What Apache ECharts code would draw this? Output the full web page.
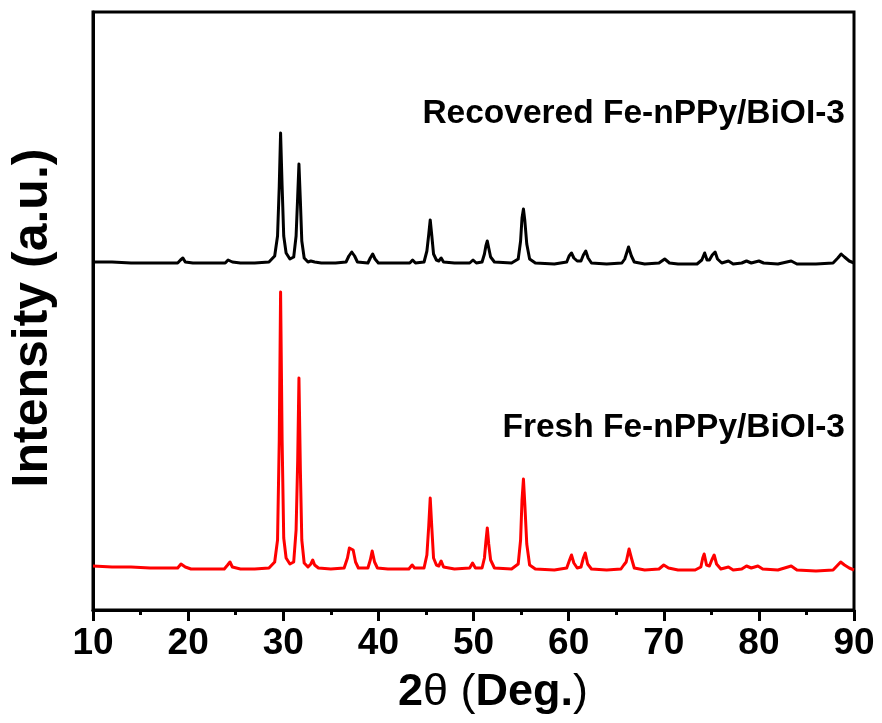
<!DOCTYPE html>
<html>
<head>
<meta charset="utf-8">
<script src="https://cdn.jsdelivr.net/npm/echarts@6/dist/echarts.min.js"></script>
<style>
  html, body { margin: 0; padding: 0; background: #fff; }
  #chart { width: 882px; height: 723px; }
</style>
</head>
<body>
<div id="chart"></div>
<script>
// XRD patterns of Fe-nPPy/BiOI-3 before and after use: [2θ (deg), intensity (a.u.)]
const freshPattern = [
  [10.0, 44], [12, 43], [14, 43], [16, 42], [18, 42], [18.9, 42], [19.25, 46], [19.45, 48], [19.7, 43],
  [20.3, 41], [22, 41], [23.8, 41], [24.15, 45], [24.4, 48], [24.65, 43], [25.5, 41], [27, 41], [28.5, 42],
  [29.1, 48], [29.4, 70], [29.58, 170], [29.72, 318], [29.88, 170], [30.05, 72], [30.3, 52], [30.7, 46],
  [31.1, 48], [31.35, 80], [31.52, 150], [31.65, 232], [31.8, 140], [31.95, 70], [32.2, 47], [32.6, 43],
  [32.9, 46], [33.1, 50], [33.3, 45], [33.7, 42], [35, 41], [36.4, 42], [36.75, 52], [36.95, 62],
  [37.15, 61], [37.35, 60], [37.6, 48], [37.9, 42], [38.9, 42], [39.15, 50], [39.35, 59], [39.6, 48],
  [39.9, 42], [41, 41], [43.2, 41], [43.55, 45], [43.8, 42], [44.8, 42], [45.1, 55], [45.3, 85],
  [45.45, 112], [45.62, 82], [45.8, 52], [46.1, 45], [46.35, 44], [46.6, 49], [46.85, 43], [48, 41],
  [49.6, 42], [49.9, 47], [50.2, 42], [50.9, 42], [51.15, 52], [51.3, 68], [51.45, 82], [51.6, 66],
  [51.8, 50], [52.2, 42], [54, 41], [54.7, 46], [54.95, 70], [55.1, 110], [55.25, 131], [55.4, 105],
  [55.6, 66], [55.9, 45], [56.5, 41], [58.5, 40], [59.8, 42], [60.1, 50], [60.3, 55], [60.55, 47],
  [60.9, 42], [61.3, 43], [61.55, 52], [61.75, 57], [62.0, 46], [62.4, 41], [64, 40], [65.5, 41],
  [65.8, 45], [66.05, 48], [66.35, 61], [66.6, 52], [66.9, 42], [68, 40], [69.5, 41], [70.0, 45],
  [70.5, 42], [71.5, 40], [73.3, 40], [73.9, 43], [74.1, 52], [74.25, 56], [74.5, 45], [74.8, 44],
  [75.05, 50], [75.3, 55], [75.55, 46], [76.0, 41], [76.8, 43], [77.3, 40], [78.2, 41], [78.7, 44],
  [79.2, 42], [79.9, 44], [80.4, 41], [82, 40], [83.4, 44], [84, 40], [86, 39], [87.8, 40], [88.3, 45],
  [88.6, 48], [89.0, 45], [89.5, 42], [90, 40]
];

const recoveredPattern = [
  [10, 44], [12, 44], [14, 43], [16, 43], [18, 43], [18.9, 43], [19.2, 46], [19.45, 48], [19.7, 44],
  [20.5, 43], [22, 43], [23.9, 43], [24.2, 46], [24.4, 48], [24.65, 44], [25.5, 43], [27, 43], [28.5, 44],
  [29.1, 50], [29.4, 70], [29.58, 120], [29.72, 173], [29.88, 120], [30.05, 70], [30.3, 53], [30.7, 47],
  [31.1, 49], [31.35, 70], [31.52, 110], [31.65, 142], [31.8, 105], [31.95, 65], [32.2, 48], [32.6, 44],
  [32.9, 45], [33.1, 47], [33.3, 44], [34, 43], [35.5, 43], [36.6, 44], [36.9, 50], [37.2, 54],
  [37.5, 50], [37.8, 44], [38.9, 43], [39.15, 48], [39.4, 52], [39.65, 47], [40, 43], [41.5, 43],
  [43.3, 43], [43.6, 46], [43.9, 43], [44.8, 44], [45.1, 55], [45.3, 72], [45.45, 86], [45.62, 70],
  [45.8, 52], [46.1, 46], [46.35, 45], [46.6, 48], [46.85, 44], [48, 43], [49.6, 43], [49.95, 46],
  [50.3, 43], [50.9, 44], [51.15, 52], [51.3, 60], [51.45, 65], [51.6, 58], [51.8, 49], [52.2, 44],
  [54, 43], [54.7, 47], [54.95, 65], [55.1, 88], [55.25, 97], [55.4, 85], [55.6, 62], [55.9, 47],
  [56.5, 43], [58.5, 42], [59.8, 44], [60.05, 50], [60.3, 53], [60.55, 48], [60.9, 45], [61.3, 45],
  [61.55, 51], [61.8, 55], [62.05, 48], [62.4, 43], [64, 42], [65.6, 43], [65.9, 47], [66.3, 59],
  [66.6, 50], [66.9, 44], [68, 42], [69.5, 43], [70.1, 47], [70.6, 43], [71.5, 42], [73.5, 42],
  [74.0, 46], [74.3, 53], [74.55, 46], [74.8, 46], [75.1, 51], [75.4, 54], [75.65, 47], [76.1, 43],
  [76.8, 45], [77.3, 42], [78.2, 43], [78.7, 45], [79.2, 43], [80.0, 45], [80.5, 43], [82, 42],
  [83.4, 45], [84, 42], [86, 42], [87.8, 43], [88.3, 48], [88.65, 52], [89.0, 49], [89.5, 45], [90, 43]
];

// vertical offset used to stack the recovered pattern above the fresh one
const recoveredOffset = 304;

const seriesNames = ['Fresh Fe-nPPy/BiOI-3', 'Recovered Fe-nPPy/BiOI-3'];
const xTicks = [10, 20, 30, 40, 50, 60, 70, 80, 90];

const FONT = '"Liberation Sans", Arial, Helvetica, sans-serif';

const chart = echarts.init(document.getElementById('chart'), null, { renderer: 'canvas' });

chart.setOption({
  animation: false,
  backgroundColor: '#ffffff',
  grid: {
    left: 93, right: 28, top: 12, bottom: 113,
    show: true, borderColor: '#000', borderWidth: 3, backgroundColor: 'transparent'
  },
  xAxis: {
    type: 'value',
    min: xTicks[0],
    max: xTicks[xTicks.length - 1],
    interval: 10,
    axisLine: { show: true, onZero: false, lineStyle: { color: '#000', width: 3 } },
    axisTick: { show: true, inside: false, length: 11, lineStyle: { color: '#000', width: 3 } },
    minorTick: { show: true, splitNumber: 2, length: 5, lineStyle: { color: '#000', width: 3 } },
    splitLine: { show: false },
    axisLabel: {
      margin: 15, color: '#000', fontFamily: FONT, fontWeight: 'bold', fontSize: 37,
      showMinLabel: true, showMaxLabel: true
    }
  },
  yAxis: {
    type: 'value',
    min: 0,
    max: 598,
    axisLine: { show: true, lineStyle: { color: '#000', width: 3 } },
    axisTick: { show: false },
    axisLabel: { show: false },
    splitLine: { show: false }
  },
  series: [
    {
      name: seriesNames[0],
      type: 'line',
      showSymbol: false,
      smooth: false,
      lineStyle: { color: '#ff0000', width: 3, join: 'round' },
      data: freshPattern
    },
    {
      name: seriesNames[1],
      type: 'line',
      showSymbol: false,
      smooth: false,
      lineStyle: { color: '#000000', width: 3, join: 'round' },
      data: recoveredPattern.map(p => [p[0], p[1] + recoveredOffset])
    }
  ],
  graphic: [
    {
      type: 'text', right: 37, top: 97,
      style: { text: seriesNames[1], fill: '#000', font: 'bold 33.5px ' + FONT }
    },
    {
      type: 'text', right: 37, top: 411,
      style: { text: seriesNames[0], fill: '#000', font: 'bold 33.5px ' + FONT }
    },
    {
      type: 'text', x: 493, y: 693,
      style: {
        text: '{b|2}{r|θ (}{b|Deg.}{r|)}',
        align: 'center', verticalAlign: 'middle',
        rich: {
          b: { fontFamily: FONT, fontWeight: 'bold', fontSize: 45, fill: '#000' },
          r: { fontFamily: FONT, fontWeight: 'normal', fontSize: 45, fill: '#000' }
        }
      }
    },
    {
      type: 'text', x: 33, y: 318, rotation: Math.PI / 2,
      style: {
        text: 'Intensity (a.u.)', fill: '#000', font: 'bold 50px ' + FONT,
        align: 'center', verticalAlign: 'middle'
      }
    }
  ]
});
</script>
</body>
</html>
